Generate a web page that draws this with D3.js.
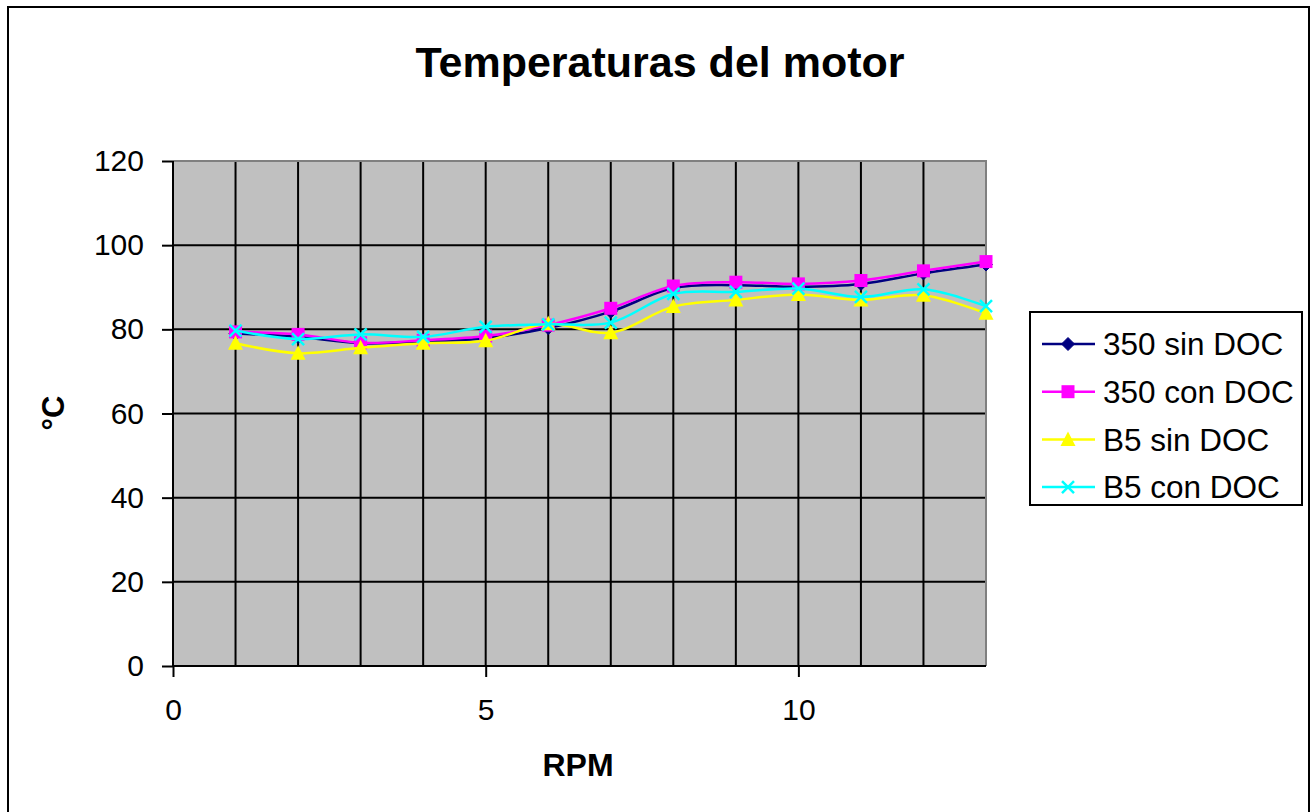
<!DOCTYPE html>
<html><head><meta charset="utf-8">
<script src="https://cdn.jsdelivr.net/npm/d3@7"></script>
<style>body{margin:0;background:#fff}svg{display:block;font-family:"Liberation Sans",Arial,sans-serif}</style>
</head><body><svg id="c" width="1316" height="812"></svg>
<script>
const rpm = [1,2,3,4,5,6,7,8,9,10,11,12,13];
const s350sin = [79.0, 78.2, 76.7, 77.1, 77.9, 80.3, 84.2, 89.8, 90.5, 90.1, 90.8, 93.3, 95.4];
const s350con = [79.4, 78.8, 76.8, 77.4, 78.4, 81.0, 85.0, 90.3, 91.2, 90.8, 91.6, 93.9, 96.1];
const b5sin = [76.7, 74.3, 75.6, 76.7, 77.3, 81.3, 79.2, 85.4, 87.0, 88.3, 87.0, 88.1, 83.8];
const b5con = [79.7, 77.7, 78.8, 78.2, 80.6, 81.2, 81.6, 88.4, 88.9, 89.7, 87.7, 89.5, 85.5];
const seriesNames = ["350 sin DOC","350 con DOC","B5 sin DOC","B5 con DOC"];
const seriesColors = ["#000080","#FF00FF","#FFFF00","#00FFFF"];
const seriesMarkers = ["diamond","square","triangle","x"];
const yTicks = [0,20,40,60,80,100,120];
const xTicks = [0,5,10];
const title = "Temperaturas del motor";
const xTitle = "RPM";
const yTitle = "°C";

const svg = d3.select("#c");
svg.append("rect").attr("x",8).attr("y",7).attr("width",1301).attr("height",812).attr("fill","none").attr("stroke","#000").attr("stroke-width",2);

const L = 173, R = 986, T = 161, B = 666;
const x = d3.scaleLinear().domain([0,13]).range([L,R]);
const y = d3.scaleLinear().domain([0,120]).range([B,T]);

svg.append("rect").attr("x",L).attr("y",T).attr("width",R-L).attr("height",B-T).attr("fill","#C0C0C0");

const g = svg.append("g");
g.selectAll("line.v").data(d3.range(1,13)).join("line")
  .attr("x1",d=>x(d)).attr("x2",d=>x(d)).attr("y1",T).attr("y2",B)
  .attr("stroke","#000").attr("stroke-width",2);
g.selectAll("line.h").data(yTicks.filter(v=>v>0 && v<120)).join("line")
  .attr("x1",L).attr("x2",R).attr("y1",d=>y(d)).attr("y2",d=>y(d))
  .attr("stroke","#000").attr("stroke-width",2);
svg.append("path").attr("d",`M${L},${T}H${R}V${B}`).attr("fill","none").attr("stroke","#808080").attr("stroke-width",2);

const yAxis = d3.axisLeft(y).tickValues(yTicks).tickSize(11).tickPadding(18).tickFormat(d3.format("d"));
const ya = svg.append("g").attr("transform",`translate(${L},0)`).call(yAxis);
const xAxis = d3.axisBottom(x).tickValues(xTicks).tickSize(11).tickPadding(22).tickFormat(d3.format("d"));
const xa = svg.append("g").attr("transform",`translate(0,${B})`).call(xAxis);
[ya,xa].forEach(a=>{
  a.select(".domain").attr("stroke","#000").attr("stroke-width",2);
  a.selectAll(".tick line").attr("stroke","#000").attr("stroke-width",2);
  a.selectAll(".tick text").attr("font-size",30).attr("fill","#000").attr("font-family","Liberation Sans, Arial, sans-serif");
});
xa.select(".domain").attr("d",`M${L},0H${R}`);
ya.select(".domain").attr("d",`M0,${B}V${T}`);

svg.append("text").attr("x",660).attr("y",77).attr("text-anchor","middle").attr("font-size",43).attr("font-weight","bold").text(title);
svg.append("text").attr("x",578).attr("y",776).attr("text-anchor","middle").attr("font-size",32).attr("font-weight","bold").text(xTitle);
svg.append("text").attr("transform","translate(64,413) rotate(-90)").attr("text-anchor","middle").attr("font-size",31).attr("font-weight","bold").text(yTitle);

const allSeries = [s350sin,s350con,b5sin,b5con];
const line = d3.line().x((d,i)=>x(rpm[i])).y(d=>y(d)).curve(d3.curveCatmullRom.alpha(0.5));

function marker(sel, type, color, cx, cy){
  if(type==="diamond"){
    sel.append("path").attr("d",`M${cx},${cy-6.5}L${cx+6.5},${cy}L${cx},${cy+6.5}L${cx-6.5},${cy}Z`).attr("fill",color).attr("stroke",color);
  } else if(type==="square"){
    sel.append("rect").attr("x",cx-6.5).attr("y",cy-6.5).attr("width",13).attr("height",13).attr("fill",color);
  } else if(type==="triangle"){
    sel.append("path").attr("d",`M${cx},${cy-8}L${cx+7.5},${cy+6.5}L${cx-7.5},${cy+6.5}Z`).attr("fill",color);
  } else {
    sel.append("path").attr("d",`M${cx-6},${cy-6}L${cx+6},${cy+6}M${cx-6},${cy+6}L${cx+6},${cy-6}`).attr("stroke",color).attr("stroke-width",2.5);
  }
}

allSeries.forEach((s,k)=>{
  const gs = svg.append("g");
  gs.append("path").datum(s).attr("d",line).attr("fill","none").attr("stroke",seriesColors[k]).attr("stroke-width",2.5);
  s.forEach((v,i)=>marker(gs, seriesMarkers[k], seriesColors[k], x(rpm[i]), y(v)));
});

const lg = svg.append("g");
lg.append("rect").attr("x",1030).attr("y",312).attr("width",272).attr("height",193).attr("fill","#fff").attr("stroke","#000").attr("stroke-width",2);
seriesNames.forEach((n,k)=>{
  const cy = 344 + k*47.7;
  lg.append("line").attr("x1",1042).attr("x2",1095).attr("y1",cy).attr("y2",cy).attr("stroke",seriesColors[k]).attr("stroke-width",2.5);
  marker(lg, seriesMarkers[k], seriesColors[k], 1068, cy);
  lg.append("text").attr("x",1103).attr("y",cy).attr("dy","0.36em").attr("font-size",31.5).text(n);
});
</script></body></html>
